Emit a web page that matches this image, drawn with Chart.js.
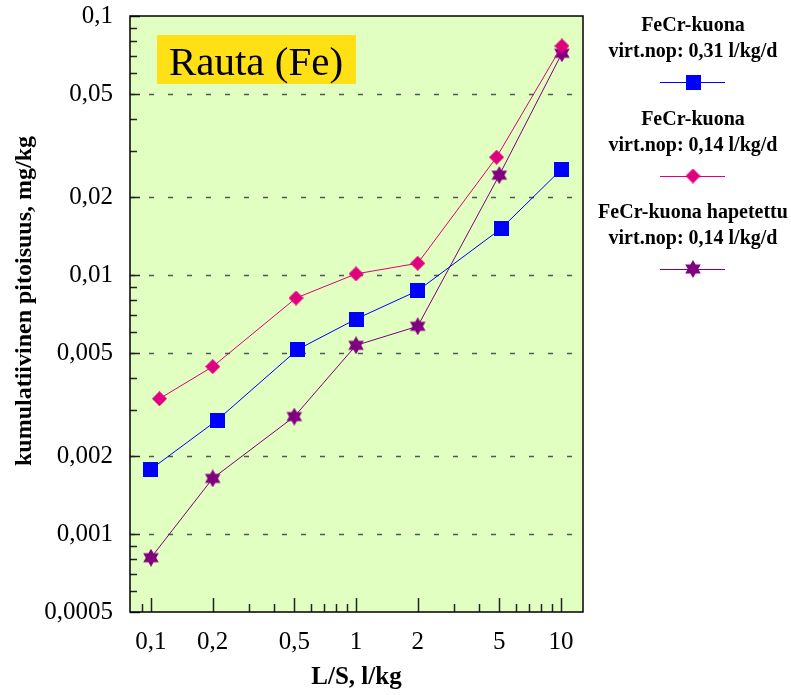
<!DOCTYPE html>
<html>
<head>
<meta charset="utf-8">
<script src="https://cdn.jsdelivr.net/npm/chart.js@4/dist/chart.umd.min.js"></script>
<style>
  html, body { margin: 0; padding: 0; background: #fff; }
  #wrap { width: 791px; height: 695px; }
</style>
</head>
<body>
<div id="wrap"><canvas id="myChart"></canvas></div>
<script>
// Values (log-log chart)
const xBlue = [0.1, 0.21, 0.52, 1, 2, 5.1, 10];
const yBlue = [0.00178, 0.00275, 0.00516, 0.00676, 0.0087, 0.0151, 0.0255];
const xPink = [0.11, 0.2, 0.51, 1, 2, 4.85, 10.1];
const yPink = [0.00333, 0.00443, 0.00815, 0.0101, 0.0111, 0.0285, 0.0766];
const xPurple = [0.1, 0.2, 0.5, 1, 2, 5, 10.1];
const yPurple = [0.00081, 0.00164, 0.00284, 0.00535, 0.00634, 0.0243, 0.0718];

const seriesLabels = [
    ["FeCr-kuona", "virt.nop: 0,31 l/kg/d"],
    ["FeCr-kuona", "virt.nop: 0,14 l/kg/d"],
    ["FeCr-kuona hapetettu", "virt.nop: 0,14 l/kg/d"]
];
const xTicks = [0.1, 0.2, 0.5, 1, 2, 5, 10];
const yTicks = [0.0005, 0.001, 0.002, 0.005, 0.01, 0.02, 0.05, 0.1];
const xMinor = [0.09, 0.3, 0.4, 0.6, 0.7, 0.8, 0.9, 3, 4, 6, 7, 8, 9];
const yMinor = [0.0006, 0.0007, 0.0008, 0.0009, 0.003, 0.004, 0.006, 0.007, 0.008, 0.009, 0.03, 0.04, 0.06, 0.07, 0.08, 0.09];
const chartTitle = "Rauta (Fe)";
const xTitle = "L/S, l/kg";
const yTitle = "kumulatiivinen pitoisuus, mg/kg";

const SERIF = '"Liberation Serif", "Times New Roman", serif';
const fmt = v => String(v).replace('.', ',');
const toPoints = (xs, ys) => xs.map((x, i) => ({ x: x, y: ys[i] }));

// Marker images (square, diamond, six-pointed star)
function makeMarker(kind, color, size) {
    const c = document.createElement('canvas');
    c.width = size; c.height = size;
    const g = c.getContext('2d');
    const h = size / 2;
    g.fillStyle = color;
    g.beginPath();
    if (kind === 'square') {
        g.rect(0, 0, size, size);
    } else if (kind === 'diamond') {
        g.moveTo(h, 0); g.lineTo(size, h); g.lineTo(h, size); g.lineTo(0, h); g.closePath();
    } else {
        for (let k = 0; k < 2; k++) {
            const a0 = k ? Math.PI / 2 : -Math.PI / 2;
            g.moveTo(h + h * Math.cos(a0), h + h * Math.sin(a0));
            for (let i = 1; i < 3; i++) {
                const a = a0 + i * 2 * Math.PI / 3;
                g.lineTo(h + h * Math.cos(a), h + h * Math.sin(a));
            }
            g.closePath();
        }
    }
    g.fill();
    return c;
}

const markers = [
    makeMarker('square', '#0000ff', 15),
    makeMarker('diamond', '#e0007f', 15),
    makeMarker('star', '#800080', 18)
];
const lineColors = ['#0000ff', '#e0007f', '#800080'];

// Plot background, grid, ticks, frame, title box, axis title and legend
const decorPlugin = {
    id: 'decor',
    beforeDraw(chart) {
        const { ctx, chartArea: a } = chart;
        ctx.save();
        ctx.fillStyle = '#e0ffc0';
        ctx.fillRect(a.left, a.top, a.right - a.left, a.bottom - a.top);
        ctx.restore();
    },
    beforeDatasetsDraw(chart) {
        const { ctx, chartArea: a, scales } = chart;
        const xs = scales.x, ys = scales.y;
        ctx.save();

        // dashed horizontal gridlines
        ctx.strokeStyle = '#555';
        ctx.lineWidth = 1.5;
        ctx.setLineDash([5, 14]);
        yTicks.forEach(v => {
            if (v <= ys.min || v >= ys.max) return;
            const y = Math.round(ys.getPixelForValue(v)) + 0.5;
            ctx.beginPath();
            ctx.moveTo(a.left, y);
            ctx.lineTo(a.right - 4, y);
            ctx.stroke();
        });
        ctx.setLineDash([]);

        // tick marks drawn inward
        ctx.strokeStyle = '#222';
        ctx.lineWidth = 1.5;
        const yTick = (v, len) => {
            const y = Math.round(ys.getPixelForValue(v)) + 0.5;
            ctx.beginPath(); ctx.moveTo(a.left, y); ctx.lineTo(a.left + len, y); ctx.stroke();
        };
        const xTick = (v, len) => {
            const x = Math.round(xs.getPixelForValue(v)) + 0.5;
            ctx.beginPath(); ctx.moveTo(x, a.bottom); ctx.lineTo(x, a.bottom - len); ctx.stroke();
        };
        yTicks.forEach(v => yTick(v, 10));
        yMinor.forEach(v => yTick(v, 7));
        xTicks.forEach(v => xTick(v, 14));
        xMinor.forEach(v => xTick(v, 8));

        // frame
        ctx.strokeStyle = '#000';
        ctx.lineWidth = 1.5;
        ctx.strokeRect(a.left, a.top, a.right - a.left, a.bottom - a.top);

        // title box
        ctx.fillStyle = '#ffe015';
        ctx.fillRect(157, 35, 199, 49);
        ctx.fillStyle = '#000';
        ctx.font = '41px ' + SERIF;
        ctx.textAlign = 'center';
        ctx.textBaseline = 'alphabetic';
        ctx.fillText(chartTitle, 256, 75);

        // y axis title
        ctx.translate(25, 301);
        ctx.rotate(-Math.PI / 2);
        ctx.font = 'bold 24px ' + SERIF;
        ctx.textBaseline = 'middle';
        ctx.fillText(yTitle, 0, 0);
        ctx.restore();
    },
    afterDraw(chart) {
        const { ctx } = chart;
        const cx = 693;
        const tops = [26, 120, 213];
        ctx.save();
        ctx.font = 'bold 20px ' + SERIF;
        ctx.textAlign = 'center';
        ctx.textBaseline = 'middle';
        chart.data.datasets.forEach((ds, i) => {
            const t = tops[i];
            ctx.fillStyle = '#000';
            ds.label.forEach((line, j) => ctx.fillText(line, cx, t + j * 26));
            const ly = t + 56;
            ctx.strokeStyle = ds.borderColor;
            ctx.lineWidth = 1;
            ctx.beginPath();
            ctx.moveTo(660, ly + 0.5);
            ctx.lineTo(725, ly + 0.5);
            ctx.stroke();
            const m = ds.pointStyle;
            ctx.drawImage(m, cx - m.width / 2, ly - m.height / 2);
        });
        ctx.restore();
    }
};

const datasets = [
    toPoints(xBlue, yBlue),
    toPoints(xPink, yPink),
    toPoints(xPurple, yPurple)
].map((pts, i) => ({
    label: seriesLabels[i],
    data: pts,
    borderColor: lineColors[i],
    backgroundColor: lineColors[i],
    borderWidth: 1,
    pointStyle: markers[i],
    pointRadius: 8,
    fill: false,
    tension: 0
}));

new Chart(document.getElementById('myChart'), {
    type: 'line',
    data: { datasets: datasets },
    options: {
        responsive: true,
        maintainAspectRatio: false,
        animation: false,
        events: [],
        layout: { padding: { left: 0, right: 208, top: 16, bottom: 0 } },
        plugins: { legend: { display: false }, tooltip: { enabled: false } },
        scales: {
            x: {
                type: 'logarithmic',
                min: 0.079,
                max: 12.8,
                afterBuildTicks: s => { s.ticks = xTicks.map(v => ({ value: v })); },
                afterFit: s => { s.height = 83; s.paddingLeft = 0; s.paddingRight = 0; },
                grid: { display: false, drawTicks: false },
                border: { display: false },
                ticks: {
                    color: '#000',
                    font: { family: SERIF, size: 25 },
                    padding: 15,
                    maxRotation: 0,
                    autoSkip: false,
                    callback: v => fmt(v)
                },
                title: {
                    display: true,
                    text: xTitle,
                    color: '#000',
                    font: { family: SERIF, size: 25, weight: 'bold' },
                    padding: { top: 0, bottom: 2 }
                }
            },
            y: {
                type: 'logarithmic',
                min: 0.0005,
                max: 0.1,
                afterBuildTicks: s => { s.ticks = yTicks.map(v => ({ value: v })); },
                afterFit: s => { s.width = 130; s.paddingTop = 0; s.paddingBottom = 0; },
                grid: { display: false, drawTicks: false },
                border: { display: false },
                ticks: {
                    color: '#000',
                    font: { family: SERIF, size: 25 },
                    padding: 17,
                    autoSkip: false,
                    callback: v => fmt(v)
                }
            }
        }
    },
    plugins: [decorPlugin]
});
</script>
</body>
</html>
